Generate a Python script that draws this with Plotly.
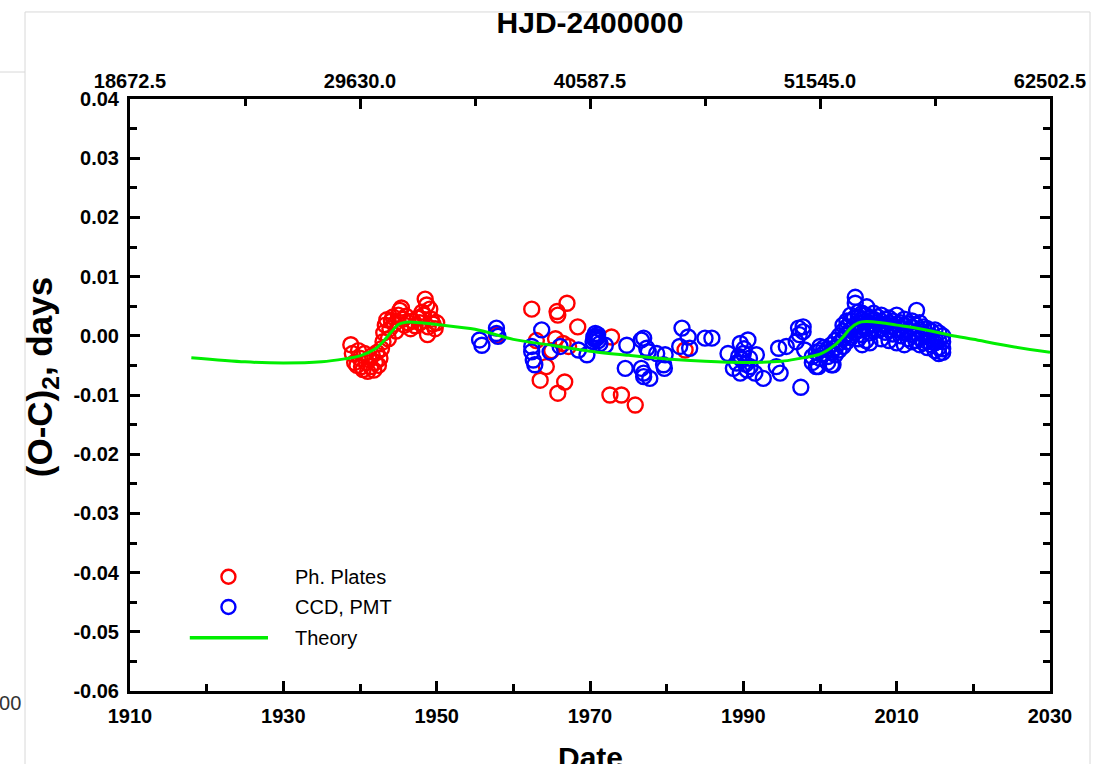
import plotly.graph_objects as go

# ---------------- data ----------------
theory_year = [1918, 1925, 1930, 1935, 1938, 1940, 1942, 1943, 1944, 1945, 1946, 1948, 1950,
               1955, 1960, 1965, 1970, 1975, 1980, 1985, 1990, 1995, 1997, 2000, 2002, 2003,
               2004, 2005, 2006, 2008, 2010, 2013, 2017, 2020, 2025, 2030]
theory_oc = [-0.0037, -0.0044, -0.0046, -0.0044, -0.0039, -0.0034, -0.0022, -0.0010, 0.0005, 0.0019,
             0.0023, 0.0022, 0.0019, 0.0011, -0.0006, -0.0016, -0.0026, -0.0033, -0.0039, -0.0043,
             -0.0045, -0.0043, -0.0039, -0.0031, -0.0015, -0.0002, 0.0013, 0.0022, 0.0024, 0.0022,
             0.0018, 0.0012, 0.0001, -0.0006, -0.0018, -0.0028]

plates_year = [1938.8, 1939.0, 1939.3, 1939.6, 1939.8, 1940.0, 1940.2, 1940.4, 1940.6, 1940.8,
               1941.0, 1941.2, 1941.4, 1941.6, 1941.8, 1942.0, 1942.2, 1942.4, 1942.6, 1942.8,
               1943.0, 1943.1, 1943.3, 1943.5, 1943.7, 1943.9, 1944.1, 1944.3, 1944.5, 1944.7,
               1945.0, 1945.2, 1945.4, 1945.6, 1945.8, 1946.0, 1946.3, 1946.6, 1946.9, 1947.2,
               1947.5, 1947.8, 1948.1, 1948.3, 1948.5, 1948.7, 1948.8, 1948.9, 1949.1, 1949.3,
               1949.5, 1949.8, 1950.0,
               1957.8, 1962.4, 1963.0, 1963.5, 1964.3, 1965.0, 1965.5, 1965.7, 1965.8, 1965.8,
               1966.5, 1966.7, 1967.0, 1967.2, 1968.4, 1972.6, 1972.8, 1974.1, 1975.9, 1982.4]
plates_oc = [-0.0015, -0.0030, -0.0045, -0.0050, -0.0025, -0.0038, -0.0052, -0.0057, -0.0030, -0.0045,
             -0.0060, -0.0040, -0.0052, -0.0033, -0.0058, -0.0045, -0.0028, -0.0050, -0.0038, -0.0022,
             -0.0010, 0.0005, 0.0018, 0.0027, -0.0005, 0.0012, 0.0025, 0.0032, 0.0020, 0.0008,
             0.0035, 0.0043, 0.0047, 0.0028, 0.0018, 0.0033, 0.0022, 0.0012, 0.0025, 0.0017,
             0.0030, 0.0022, 0.0040, 0.0035, 0.0062, 0.0052, 0.0002, 0.0015, 0.0045, 0.0028,
             0.0020, 0.0012, 0.0022,
             0.0001, 0.0045, -0.0008, -0.0075, -0.0052, -0.0025, -0.0005, 0.0041, 0.0035, -0.0097,
             -0.0013, -0.0078, 0.0055, -0.0018, 0.0015, -0.0100, -0.0002, -0.0100, -0.0117, -0.0024]

ccd_year = [1955.6, 1955.9, 1957.8, 1957.8, 1958.0,
            1962.4, 1962.6, 1962.8, 1962.4, 1963.7, 1964.8, 1966.1, 1968.5, 1969.6, 1970.5,
            1970.7, 1970.9, 1971.1, 1971.3, 1972.0, 1970.4, 1970.6, 1970.8, 1971.0, 1974.8,
            1976.7, 1974.6, 1976.7, 1977.0, 1977.8, 1977.6, 1978.7, 1977.0, 1977.4, 1977.0,
            1979.8, 1979.6, 1979.7, 1982.0, 1982.8, 1981.7, 1983.0, 1985.0, 1985.9, 1988.0,
            1989.6, 1990.6, 1990.0, 1989.1, 1988.7, 1989.6, 1990.9, 1991.5, 1992.6, 1991.7,
            1989.8, 1990.3, 1990.5, 1990.1, 1989.4, 1990.8,
            1994.6, 1995.6, 1994.3, 1994.8, 1997.2, 1997.3, 1997.5, 1997.8, 1997.8, 1998.0,
            1996.9, 1999.8, 2001.7,
            1999.0, 1999.0, 1999.5, 1999.5, 2000.0, 2000.0, 2000.0, 2000.5, 2000.5,
            2001.0, 2001.0, 2001.0, 2001.5, 2001.5, 2001.5, 2002.0, 2002.0, 2002.0,
            2002.5, 2002.5, 2002.5, 2003.0, 2003.0, 2003.0, 2003.0, 2003.5, 2003.5, 2003.5, 2003.5,
            2004.0, 2004.0, 2004.0, 2004.0, 2004.5, 2004.5, 2004.5, 2004.6, 2004.6,
            2005.0, 2005.0, 2005.0, 2005.0, 2005.0, 2005.5, 2005.5, 2005.5, 2005.5, 2005.5,
            2006.0, 2006.0, 2006.0, 2006.0, 2006.1, 2006.5, 2006.5, 2006.5, 2006.5,
            2007.0, 2007.0, 2007.0, 2007.0, 2007.5, 2007.5, 2007.5,
            2008.0, 2008.0, 2008.0, 2008.0, 2008.5, 2008.5, 2008.5,
            2009.0, 2009.0, 2009.0, 2009.0, 2009.5, 2009.5, 2009.5,
            2010.0, 2010.0, 2010.0, 2010.0, 2010.5, 2010.5, 2010.5,
            2011.0, 2011.0, 2011.0, 2011.0, 2011.5, 2011.5, 2011.5,
            2012.0, 2012.0, 2012.0, 2012.0, 2012.6, 2012.5, 2012.5, 2012.5,
            2013.0, 2013.0, 2013.0, 2013.0, 2013.5, 2013.5, 2013.5,
            2014.0, 2014.0, 2014.0, 2014.0, 2014.5, 2014.5, 2014.5,
            2015.0, 2015.0, 2015.0, 2015.0, 2015.5, 2015.5, 2015.5, 2015.5,
            2016.0, 2016.0, 2016.0, 2016.0]
ccd_oc = [-0.0007, -0.0016, 0.0013, 0.0004, -0.0001,
          -0.0027, -0.0041, -0.0049, -0.0018, 0.0010, -0.0027, -0.0018, -0.0024, -0.0032, -0.0002,
          0.0004, -0.0004, -0.0008, -0.0013, -0.0016, -0.0010, -0.0006, -0.0001, 0.0002, -0.0016,
          -0.0007, -0.0055, -0.0055, -0.0069, -0.0072, -0.0027, -0.0030, -0.0004, -0.0021, -0.0063,
          -0.0032, -0.0049, -0.0055, 0.0013, -0.0002, -0.0018, -0.0021, -0.0004, -0.0004, -0.0030,
          -0.0013, -0.0007, -0.0030, -0.0046, -0.0055, -0.0063, -0.0052, -0.0063, -0.0072, -0.0032,
          -0.0040, -0.0048, -0.0058, -0.0022, -0.0035, -0.0038,
          -0.0021, -0.0018, -0.0052, -0.0063, 0.0013, 0.0002, -0.0087, 0.0015, 0.0007, -0.0024,
          -0.0010, -0.0052, -0.0049,
          -0.0035, -0.0045, -0.0028, -0.0052, -0.0025, -0.0038, -0.0018, -0.0030, -0.0020,
          -0.0022, -0.0035, -0.0045, -0.0015, -0.0028, -0.0049, -0.0008, -0.0020, -0.0032,
          0.0000, -0.0012, -0.0024, 0.0008, -0.0005, -0.0018, 0.0018, 0.0015, 0.0002, -0.0010, 0.0025,
          0.0025, 0.0010, -0.0003, 0.0035, 0.0030, 0.0018, 0.0005, 0.0065, 0.0055,
          0.0032, 0.0022, 0.0010, -0.0005, 0.0040, 0.0028, 0.0015, 0.0002, -0.0015, 0.0038,
          0.0035, 0.0025, 0.0012, -0.0008, 0.0049, 0.0030, 0.0020, 0.0005, -0.0012,
          0.0038, 0.0028, 0.0018, 0.0008, 0.0032, 0.0022, 0.0010,
          0.0035, 0.0020, 0.0012, -0.0005, 0.0028, 0.0018, 0.0006,
          0.0030, 0.0022, 0.0010, -0.0008, 0.0025, 0.0015, 0.0003,
          0.0035, 0.0020, 0.0010, -0.0012, 0.0022, 0.0012, 0.0000,
          0.0028, 0.0018, 0.0005, -0.0015, 0.0020, 0.0010, -0.0005,
          0.0025, 0.0015, 0.0002, -0.0010, 0.0043, 0.0018, 0.0005, -0.0008,
          0.0022, 0.0010, -0.0003, -0.0015, 0.0015, 0.0003, -0.0012,
          0.0012, 0.0000, -0.0010, -0.0020, 0.0008, -0.0005, -0.0015,
          0.0010, -0.0003, -0.0012, -0.0025, 0.0005, -0.0008, -0.0020, -0.0030,
          0.0000, -0.0010, -0.0022, -0.0028]

x_ticks = [1910, 1930, 1950, 1970, 1990, 2010, 2030]
top_tickvals = [1910, 1940, 1970, 2000, 2030]
top_ticktext = ["18672.5", "29630.0", "40587.5", "51545.0", "62502.5"]
y_ticks = [0.04, 0.03, 0.02, 0.01, 0.0, -0.01, -0.02, -0.03, -0.04, -0.05, -0.06]
y_ticktext = ["0.04", "0.03", "0.02", "0.01", "0.00", "-0.01", "-0.02", "-0.03", "-0.04", "-0.05", "-0.06"]
legend_labels = ["Ph. Plates", "CCD, PMT", "Theory"]

RED = "#ff0000"
BLUE = "#0000ff"
GREEN = "#00ee00"
FONT = "Liberation Sans, Arial, sans-serif"

fig = go.Figure()
fig.add_trace(go.Scatter(x=plates_year, y=plates_oc, mode="markers", name=legend_labels[0],
                         marker=dict(symbol="circle-open", size=15, color=RED, line=dict(width=2.4, color=RED))))
fig.add_trace(go.Scatter(x=ccd_year, y=ccd_oc, mode="markers", name=legend_labels[1],
                         marker=dict(symbol="circle-open", size=15, color=BLUE, line=dict(width=2.4, color=BLUE))))
fig.add_trace(go.Scatter(x=theory_year, y=theory_oc, mode="lines", name=legend_labels[2],
                         line=dict(color=GREEN, width=3, shape="spline", smoothing=0.8)))
# invisible trace to instantiate the top axis
fig.add_trace(go.Scatter(x=[1910, 2030], y=[0, 0], xaxis="x2", mode="markers",
                         marker=dict(opacity=0), hoverinfo="skip", showlegend=False))

tickfont = dict(family=FONT, size=20, color="black", weight="bold")
common = dict(ticks="inside", ticklen=10, tickwidth=2.5, tickcolor="black", showline=True,
              linecolor="black", linewidth=3, showgrid=False, zeroline=False, tickfont=tickfont,
              automargin=False)
fig.update_layout(
    width=1096, height=764,
    margin=dict(l=130, r=46, t=99, b=73),
    paper_bgcolor="white", plot_bgcolor="white",
    showlegend=False,
    xaxis=dict(range=[1910, 2030], tickvals=x_ticks, mirror=False, ticklabelstandoff=5,
               minor=dict(dtick=10, tick0=1910, ticks="inside", ticklen=7, tickwidth=2.5, tickcolor="black"),
               **common),
    xaxis2=dict(range=[1910, 2030], overlaying="x", side="top", tickvals=top_tickvals, ticktext=top_ticktext,
                minor=dict(dtick=15, tick0=1910, ticks="inside", ticklen=7, tickwidth=2.5, tickcolor="black"),
                title=dict(text="<b>HJD-2400000</b>", font=dict(family=FONT, size=30, color="black"), standoff=28),
                **common),
    yaxis=dict(range=[-0.06, 0.04], tickvals=y_ticks, ticktext=y_ticktext, mirror="ticks", ticklabelstandoff=4,
               minor=dict(dtick=0.005, tick0=0, ticks="inside", ticklen=7, tickwidth=2.5, tickcolor="black"),
               **common),
)

# y-axis title as a rotated annotation (placed slightly above centre like the reference)
fig.add_annotation(text="<b>(O-C)<sub>2</sub>, days</b>", xref="paper", yref="paper", x=-0.0957, y=0.53,
                   xanchor="center", yanchor="middle", textangle=-90, showarrow=False,
                   font=dict(family=FONT, size=35, color="black"))
# x-axis title, partly cut off by the bottom edge as in the reference
fig.add_annotation(text="<b>Date</b>", xref="paper", yref="paper", x=0.5, y=-0.1130,
                   xanchor="center", yanchor="middle", showarrow=False,
                   font=dict(family=FONT, size=30, color="black"))

# legend drawn manually (long line key like the reference)
leg_rows_y = [0.193, 0.142, 0.090]
marker_x = 0.107
fig.add_shape(type="circle", xref="paper", yref="paper", xsizemode="pixel", ysizemode="pixel",
              xanchor=marker_x, yanchor=leg_rows_y[0], x0=-7, x1=7, y0=-7, y1=7,
              line=dict(color=RED, width=2.4))
fig.add_shape(type="circle", xref="paper", yref="paper", xsizemode="pixel", ysizemode="pixel",
              xanchor=marker_x, yanchor=leg_rows_y[1], x0=-7, x1=7, y0=-7, y1=7,
              line=dict(color=BLUE, width=2.4))
fig.add_shape(type="line", xref="paper", yref="paper", x0=0.065, x1=0.150, y0=leg_rows_y[2], y1=leg_rows_y[2],
              line=dict(color=GREEN, width=3.5))
for lbl, yy in zip(legend_labels, leg_rows_y):
    fig.add_annotation(text=lbl, xref="paper", yref="paper", x=0.177, y=yy, xanchor="left", yanchor="middle",
                       showarrow=False, font=dict(family=FONT, size=20, color="black"))

# page frame around the figure (screenshot surround)
fig.add_shape(type="rect", xref="paper", yref="paper", x0=-0.1141, x1=1.0435, y0=-0.2, y1=1.147,
              line=dict(color="#d8d8d8", width=1), layer="below")
fig.add_shape(type="line", xref="paper", yref="paper", x0=-0.2, x1=-0.1141, y0=1.0456, y1=1.0456,
              line=dict(color="#d8d8d8", width=1))
fig.add_annotation(text="000", xref="paper", yref="paper", x=-0.1165, y=-0.02, xanchor="right",
                   yanchor="middle", showarrow=False, font=dict(family=FONT, size=20, color="#333"))

fig.write_html("out.html")
